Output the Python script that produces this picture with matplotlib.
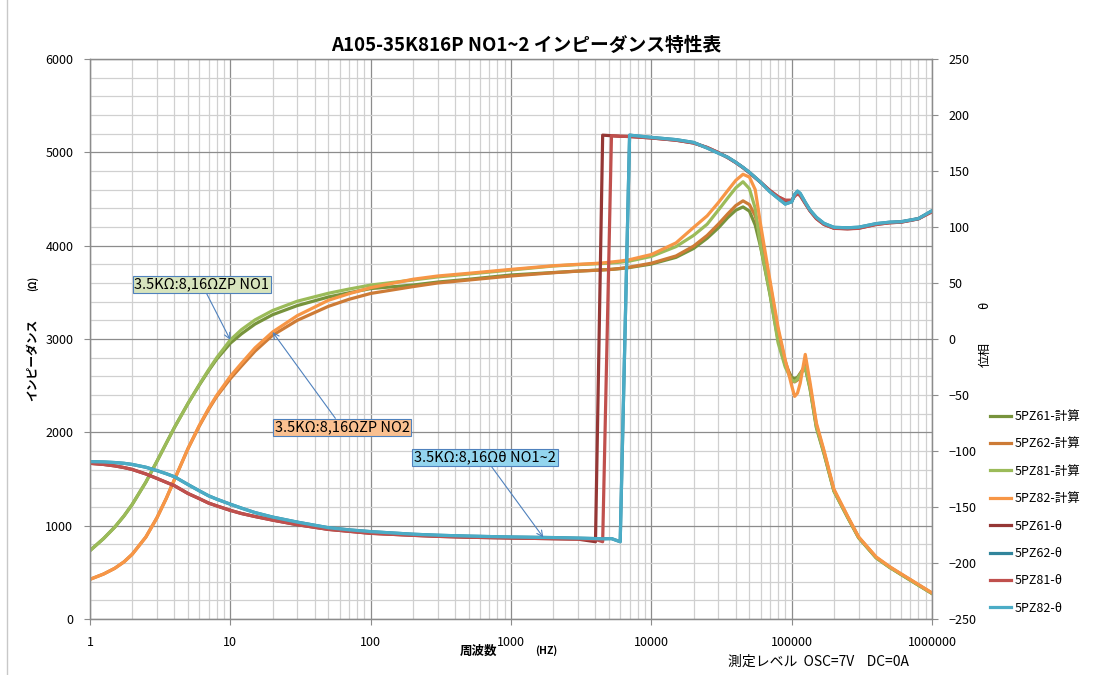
import matplotlib.pyplot as plt
from matplotlib.ticker import LogLocator, MultipleLocator, NullFormatter, NullLocator

plt.rcParams['font.family'] = ['Noto Sans CJK JP', 'DejaVu Sans']

# ---- data ----
freq = [1, 1.25, 1.5, 1.75, 2, 2.5, 3, 3.5, 4, 5, 6, 7, 8, 10, 12, 15, 20, 30,
        50, 70, 100, 200, 300, 500,
        1000, 2000, 3000, 4000, 4500, 5200, 6000, 7000, 10000, 15000, 20000,
        25000, 30000, 35000, 40000, 45000, 50000, 55000, 60000, 70000, 80000,
        90000, 100000, 105000, 110000, 115000, 125000, 135000, 150000, 170000,
        200000, 250000, 300000, 400000, 500000, 600000, 800000, 1000000]

# impedance (ohm), left axis
z61 = [733, 862, 984, 1106, 1228, 1466, 1690, 1885, 2053, 2311, 2505, 2660,
       2785, 2955, 3055, 3160, 3260, 3358, 3450, 3495, 3540, 3578, 3610, 3640,
       3686, 3712, 3728, 3737, 3741, 3746, 3754, 3766, 3803, 3875, 3970, 4080,
       4190, 4300, 4380, 4415, 4370, 4220, 3990, 3480, 2990, 2720, 2590, 2575,
       2590, 2630, 2690, 2470, 2050, 1770, 1370, 1090, 870, 655, 552, 478, 362, 273]
z62 = [425, 482, 543, 613, 694, 878, 1085, 1294, 1495, 1828, 2065, 2245,
       2385, 2575, 2710, 2870, 3040, 3200, 3350, 3425, 3488, 3561, 3600, 3632,
       3675, 3710, 3727, 3736, 3740, 3746, 3756, 3770, 3812, 3890, 3995, 4110,
       4230, 4340, 4430, 4480, 4440, 4320, 4100, 3600, 3090, 2760, 2560, 2540,
       2560, 2630, 2720, 2500, 2080, 1790, 1380, 1098, 875, 660, 556, 482, 366, 276]
z81 = [733, 862, 984, 1106, 1228, 1466, 1690, 1885, 2053, 2311, 2510, 2670,
       2800, 2990, 3100, 3205, 3305, 3405, 3490, 3535, 3578, 3632, 3665, 3696,
       3739, 3782, 3797, 3805, 3809, 3815, 3823, 3835, 3885, 3990, 4110, 4230,
       4380, 4510, 4620, 4685, 4610, 4400, 4000, 3490, 2960, 2700, 2560, 2545,
       2570, 2620, 2700, 2480, 2060, 1780, 1372, 1092, 872, 656, 553, 479, 363, 274]
z82 = [425, 482, 543, 613, 694, 878, 1085, 1294, 1495, 1828, 2072, 2255,
       2397, 2600, 2740, 2905, 3075, 3250, 3415, 3485, 3550, 3640, 3675, 3704,
       3746, 3785, 3800, 3810, 3815, 3825, 3835, 3850, 3905, 4030, 4195, 4320,
       4460, 4590, 4700, 4765, 4735, 4600, 4230, 3630, 3125, 2775, 2500, 2385,
       2420, 2525, 2835, 2540, 2100, 1805, 1392, 1104, 880, 665, 560, 486, 370, 280]

# phase (deg), right axis
th61 = [-111, -112, -113.3, -114.8, -116.5, -120.5, -124.5, -128, -131, -138,
        -142.5, -146.5, -149, -153, -155.8, -158.5, -161.7, -165.8, -170,
        -171.7, -173.5, -175.3, -176.2, -177,
        -177.7, -178.3, -178.7, -181, 182, 181.5, 181, 180.8, 179.5, 177.5, 175,
        171, 166.5, 162, 157.5, 153, 148.5, 144, 140, 132.5, 127, 123.5, 123,
        128, 131, 128.5, 121, 114.5, 107.5, 102.3, 99, 98.5, 99, 102.3, 103.8,
        104.3, 107.3, 114]
th62 = [-109.5, -109.8, -110.3, -111, -112, -114.5, -117.5, -120.3, -123, -130,
        -135.5, -140, -143, -147.5, -151, -155, -159, -163.5, -168.5, -170.4,
        -172, -174.3, -175.2, -176,
        -176.8, -177.3, -177.8, -178.2, -178.4, -178.2, -181, 182, 180, 178,
        175.5, 170.5, 166, 162.3, 157.7, 153.2, 148.8, 144.2, 140, 131.5, 125.6,
        120.5, 122.5, 129, 132, 130, 122, 115.2, 108.6, 103.2, 99.7, 99.3, 99.8,
        103, 104.3, 104.7, 107.5, 114.5]
th81 = [-111, -112, -113.3, -114.8, -116.5, -120.5, -124.5, -128, -131, -138,
        -142.5, -146.5, -149, -153, -155.8, -158.5, -161.7, -165.8, -170,
        -171.7, -173.5, -175.3, -176.2, -177,
        -177.7, -178.3, -178.7, -179, -181, 181.5, 181, 180.8, 179.5, 177.5, 175,
        171, 166.5, 162, 157.5, 153, 148.5, 144, 140, 132.5, 127, 124, 124,
        127.5, 129.5, 128, 121, 114.5, 107.5, 102.3, 98.8, 98.3, 98.8, 102.3,
        103.8, 104.3, 107.3, 113.5]
th82 = [-109.5, -109.8, -110.3, -111, -112, -114.5, -117.5, -120.3, -123, -130,
        -135.5, -140, -143, -147.5, -151, -155, -159, -163.5, -168.5, -170.4,
        -172, -174.3, -175.2, -176,
        -176.8, -177.3, -177.8, -178.2, -178.4, -178.2, -181, 182, 180, 178,
        175.5, 170.5, 166, 162.3, 157.7, 153.2, 148.8, 144.2, 140, 131.5, 125.6,
        120.5, 122.5, 129, 132, 130, 122, 115.2, 108.6, 103.2, 99.7, 99.3, 99.8,
        103, 104.3, 104.7, 107.5, 114.5]

x_ticks = [1, 10, 100, 1000, 10000, 100000, 1000000]
x_labels = ['1', '10', '100', '1000', '10000', '100000', '1000000']

z_series = [('5PZ61-計算', z61, '#77933C'), ('5PZ62-計算', z62, '#CD7B36'),
            ('5PZ81-計算', z81, '#9BBB59'), ('5PZ82-計算', z82, '#F79646')]
th_series = [('5PZ61-θ', th61, '#953735'), ('5PZ62-θ', th62, '#31859C'),
             ('5PZ81-θ', th81, '#C0504D'), ('5PZ82-θ', th82, '#4BACC6')]

grid_major = '#8C8C8C'
grid_minor = '#D0D0D0'

fig = plt.figure(figsize=(10.96, 6.75), dpi=100)
ax = fig.add_axes([90 / 1096, 1 - 619 / 675, 842 / 1096, 560 / 675])
ax2 = ax.twinx()

handles = []
for name, vals, col in z_series:
    h, = ax.plot(freq, vals, color=col, lw=2.3, label=name, solid_joinstyle='round')
    handles.append(h)
for name, vals, col in th_series:
    h, = ax2.plot(freq, vals, color=col, lw=2.3, label=name, solid_joinstyle='round')
    handles.append(h)

ax.set_xscale('log')
ax.set_xlim(1, 1e6)
ax.set_ylim(0, 6000)
ax2.set_ylim(-250, 250)

ax.set_xticks(x_ticks, labels=x_labels)
ax.xaxis.set_minor_locator(LogLocator(base=10, subs=range(2, 10), numticks=20))
ax.xaxis.set_minor_formatter(NullFormatter())
ax.yaxis.set_major_locator(MultipleLocator(1000))
ax.yaxis.set_minor_locator(MultipleLocator(200))
ax2.yaxis.set_major_locator(MultipleLocator(50))
ax2.yaxis.set_minor_locator(NullLocator())

ax.set_axisbelow(True)
ax.grid(which='major', color=grid_major, lw=0.9)
ax.grid(which='minor', color=grid_minor, lw=0.9)

for a in (ax, ax2):
    a.tick_params(which='major', length=4, color=grid_major, labelsize=9, pad=8)
    a.tick_params(which='minor', length=0)
    for s in a.spines.values():
        s.set_color(grid_major)
        s.set_linewidth(0.9)

fig.text(526 / 1096, 1 - 45 / 675, 'A105-35K816P NO1~2 インピーダンス特性表',
         ha='center', va='center', fontsize=13.5, fontweight='bold')
fig.text(33 / 1096, 1 - 360 / 675, 'インピーダンス', rotation=90, ha='center',
         va='center', fontsize=8.5, fontweight='bold')
fig.text(33 / 1096, 1 - 283 / 675, '(Ω)', rotation=90, ha='center',
         va='center', fontsize=7, fontweight='bold')
fig.text(985 / 1096, 1 - 354 / 675, '位相', rotation=90, ha='center',
         va='center', fontsize=9)
fig.text(985 / 1096, 1 - 305 / 675, 'θ', rotation=90, ha='center',
         va='center', fontsize=9)
fig.text(478 / 1096, 1 - 651 / 675, '周波数', ha='center', va='center',
         fontsize=9, fontweight='bold')
fig.text(546 / 1096, 1 - 651 / 675, '(HZ)', ha='center', va='center',
         fontsize=7.5, fontweight='bold')
fig.text(818 / 1096, 1 - 662 / 675, '測定レベル  OSC=7V    DC=0A', ha='center',
         va='center', fontsize=10)

arrow = dict(arrowstyle='->', color='#4F81BD', lw=0.8, shrinkA=0, shrinkB=0)
ax.annotate('3.5KΩ:8,16ΩZP NO1', xy=(freq[13], z81[13]), xytext=(6.28, 3584),
            ha='center', va='center', fontsize=10.5, arrowprops=arrow,
            bbox=dict(boxstyle='square,pad=0.12', fc='#D7E4BD', ec='#4F81BD', lw=0.8))
ax.annotate('3.5KΩ:8,16ΩZP NO2', xy=(freq[16], z82[16]), xytext=(62.5, 2052),
            ha='center', va='center', fontsize=10.5, arrowprops=arrow,
            bbox=dict(boxstyle='square,pad=0.12', fc='#FAC090', ec='#4F81BD', lw=0.8))
ax2.annotate('3.5KΩ:8,16Ωθ NO1~2', xy=(1700, -177.2), xytext=(653, -106),
             ha='center', va='center', fontsize=10.5, arrowprops=arrow,
             bbox=dict(boxstyle='square,pad=0.12', fc='#93D5EE', ec='#4F81BD', lw=0.8))

fig.legend(handles=handles, loc='upper left', bbox_to_anchor=(985 / 1096, 1 - 405 / 675),
           frameon=False, fontsize=9, handlelength=1.7, handletextpad=0.3,
           labelspacing=1.15, borderaxespad=0)

fig.add_artist(plt.Line2D([7 / 1096, 7 / 1096], [0, 1], color='#C8C8C8', lw=1))

fig.savefig('out.png', dpi=100)
